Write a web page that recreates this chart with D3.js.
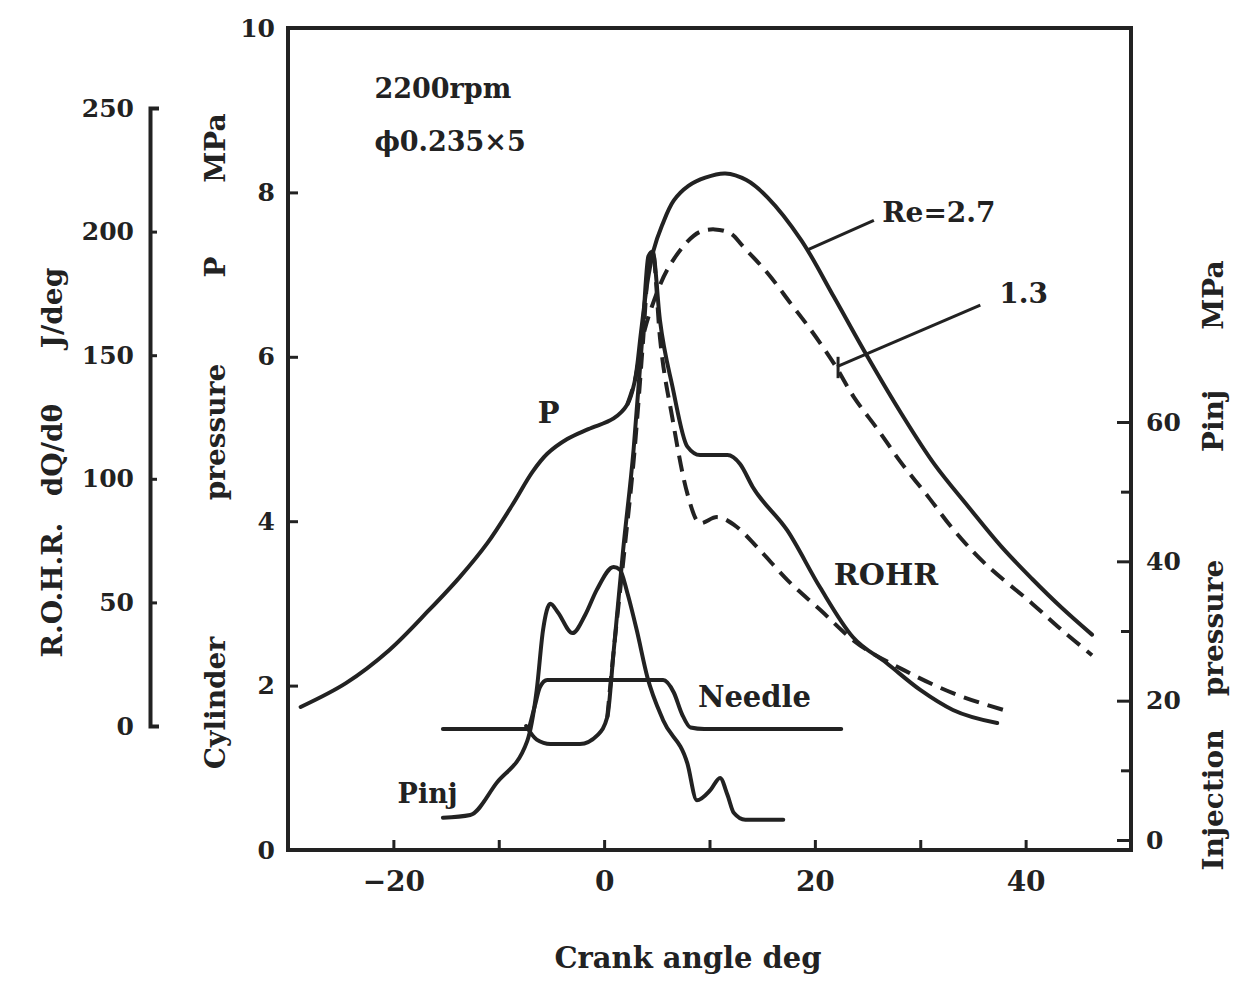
<!DOCTYPE html>
<html>
<head>
<meta charset="utf-8">
<title>Cylinder pressure, ROHR and injection pressure</title>
<script src="https://cdnjs.cloudflare.com/ajax/libs/d3/7.8.5/d3.min.js"></script>
<style>
    body { margin: 0; background: #fff; }
    text { font-family: "DejaVu Serif", serif; font-weight: bold; fill: #222; }
    .tick text { font-size: 25px; }
    .xaxis .tick text { font-size: 28px; }
    .tick line { stroke: #222; stroke-width: 3; }
    .axisline path { stroke: #222; stroke-width: 4; }
    .curve { fill: none; stroke: #222; stroke-width: 4; stroke-linejoin: round; stroke-linecap: round; }
    .dashed { stroke-dasharray: 16, 9; stroke-linecap: butt; }
    .title { font-size: 28px; }
    .note { font-size: 27px; }
</style>
</head>
<body>
<svg width="1251" height="988"></svg>
<script>

// crank angle (deg) vs cylinder pressure (MPa), Re = 2.7 (solid) and 1.3 (dashed)
var pCyl27 = [[-28.8,1.74],[-24.5,2.03],[-20.4,2.43],[-16.6,2.92],[-13.7,3.32],[-11.1,3.73],[-8.7,4.2],
    [-6.8,4.6],[-5.4,4.82],[-3.5,5.0],[-1.5,5.12],[0.9,5.25],[2.2,5.42],[2.9,5.7],[3.5,6.3],[4.1,6.9],
    [4.7,7.3],[5.5,7.6],[6.6,7.9],[8,8.08],[9.6,8.18],[11.5,8.23],[13.5,8.15],[15.5,7.94],[18.7,7.42],
    [21.8,6.73],[25,6.0],[28.2,5.31],[31.3,4.7],[34.6,4.17],[37.7,3.69],[40.6,3.3],[43.4,2.95],[46.3,2.62]];
var pCyl13 = [[2.2,5.42],[2.9,5.7],[3.6,6.2],[4.5,6.6],[6,7.06],[7.9,7.4],[9.1,7.52],[10.5,7.55],[12,7.5],
    [13.2,7.34],[15.5,7.02],[17.7,6.65],[19.6,6.33],[21.8,5.92],[23.7,5.51],[26,5.11],[28.2,4.71],
    [30.8,4.29],[33.2,3.89],[36.1,3.49],[40.6,3.0],[43.4,2.68],[46.3,2.37]];

// rate of heat release (J/deg)
var rohr27 = [[-7.4,0],[-6.4,-5.5],[-5.1,-7.3],[-2.3,-7.3],[-0.6,-3.6],[0.3,3.6],[0.9,30],[1.8,71],
    [2.8,112],[3.6,156],[4.2,190],[4.6,192],[5.3,164],[6.5,137],[7.9,113],[9.1,109.6],[11.7,109.6],
    [12.9,106],[14.1,96.7],[17.4,79],[20.5,56],[23.6,36],[26.8,25.5],[30,14.6],[33.1,6.5],[37.3,1.2]];
var rohr13 = [[0.3,3.6],[0.9,30],[1.9,70],[2.9,112],[3.7,156],[4.3,190],[4.6,192],[5.3,157],[6.5,124],
    [7.9,94],[9.1,82],[10.7,84.5],[12.6,80.5],[14.5,72.4],[17.4,59],[20.5,47],[23.6,34.8],[28.4,22.7],
    [33.1,13.3],[37.9,6.5]];

// injection pressure (MPa) and needle lift (relative)
var pInj = [[-15.3,3.2],[-12.7,3.6],[-10.2,8.2],[-7.3,14.2],[-6.4,21.5],[-5.8,30.1],[-5.1,33.9],[-4.4,32.7],
    [-3.0,29.7],[-1.8,32.3],[-0.7,35.9],[0.9,39.2],[1.5,38.8],[2.2,35.5],[3.1,30.1],[4.1,23.4],[5.6,17.2],
    [7.9,11],[8.8,5.7],[10.1,7.2],[11.0,8.9],[11.7,6.5],[12.3,3.9],[13.4,2.9],[17.0,2.9]];
var needleLift = [[-15.3,0],[-7.3,0],[-6.6,0.45],[-6.1,0.85],[-5.4,1],[5.6,1],[6.6,0.75],[7.4,0.3],
    [8.2,0.03],[9.5,0],[22.5,0]];

// ticks
var angleTicks = [-30,-20,-10,0,10,20,30,40,50];
var angleLabels = [-20,0,20,40];
var pTicks = [0,2,4,6,8,10];
var rohrTicks = [0,50,100,150,200,250];
var injTicks = [0,20,40,60];
var injMinor = [10,30,50];

var svg = d3.select("svg");

var x = d3.scaleLinear().domain([-30, 50]).range([288, 1131]),
    yP = d3.scaleLinear().domain([0, 10]).range([850, 28]),
    yR = d3.scaleLinear().domain([0, 250]).range([726, 108]),
    yI = d3.scaleLinear().domain([0, 60]).range([840, 422]),
    yN = d3.scaleLinear().domain([0, 1]).range([729, 680]),
    rohrAxisX = 150;

//frame round the plot
svg.append("rect")
    .attr("x", x(-30)).attr("y", yP(10))
    .attr("width", x(50) - x(-30)).attr("height", yP(0) - yP(10))
    .attr("fill", "none").attr("stroke", "#222").attr("stroke-width", 4);

//bottom axis, ticks pointing in
var xAxis = svg.append("g")
    .attr("class", "xaxis")
    .attr("transform", "translate(0," + yP(0) + ")")
    .call(d3.axisBottom(x).tickValues(angleTicks).tickSize(-10).tickPadding(21)
        .tickFormat(function(d){ return angleLabels.indexOf(d) >= 0 ? d3.format("")(d) : ""; }));
xAxis.select(".domain").remove();

//cylinder pressure axis
var pAxis = svg.append("g")
    .attr("transform", "translate(" + x(-30) + ",0)")
    .call(d3.axisLeft(yP).tickValues(pTicks).tickSize(-10).tickPadding(13));
pAxis.select(".domain").remove();

//rohr axis off to the left
svg.append("g")
    .attr("class", "axisline")
    .attr("transform", "translate(" + rohrAxisX + ",0)")
    .call(d3.axisLeft(yR).tickValues(rohrTicks).tickSize(-7).tickSizeOuter(-9).tickPadding(16));

//injection pressure axis on the right
var iAxis = svg.append("g")
    .attr("transform", "translate(" + x(50) + ",0)")
    .call(d3.axisRight(yI).tickValues(injTicks).tickSize(-14).tickPadding(15));
iAxis.select(".domain").remove();
var iMinor = svg.append("g")
    .attr("transform", "translate(" + x(50) + ",0)")
    .call(d3.axisRight(yI).tickValues(injMinor).tickSize(-10).tickFormat(""));
iMinor.select(".domain").remove();

//line generators
function lineFor(ys, curve) {
    return d3.line()
        .x(function(d){ return x(d[0]); })
        .y(function(d){ return ys(d[1]); })
        .curve(curve);
}

var smooth = d3.curveCatmullRom.alpha(0.5),
    mono = d3.curveMonotoneX;

var series = [
    {data: pCyl27, y: yP, dashed: false, curve: smooth},
    {data: pCyl13, y: yP, dashed: true, curve: smooth},
    {data: rohr27, y: yR, dashed: false, curve: mono},
    {data: rohr13, y: yR, dashed: true, curve: mono},
    {data: pInj, y: yI, dashed: false, curve: mono},
    {data: needleLift, y: yN, dashed: false, curve: mono}
];

svg.selectAll(".curve")
    .data(series)
    .enter()
        .append("path")
        .attr("class", function(d){ return d.dashed ? "curve dashed" : "curve"; })
        .attr("d", function(d){ return lineFor(d.y, d.curve)(d.data); });

//leader lines for the Re labels
var leaders = [
    [[19.3,7.3],[25.6,7.66]],
    [[22.1,5.88],[35.7,6.63]],
    [[22.2,6.0],[22.2,5.74]]
];
svg.selectAll(".leader")
    .data(leaders)
    .enter()
        .append("path")
        .attr("class", "leader")
        .attr("fill", "none").attr("stroke", "#222").attr("stroke-width", 3)
        .attr("d", d3.line().x(function(d){ return x(d[0]); }).y(function(d){ return yP(d[1]); }));

//labels inside the plot
var notes = [
    {t: "2200rpm", a: -21.8, y: yP(9.15), size: 27},
    {t: "\u03d50.235\u00d75", a: -21.8, y: yP(8.5), size: 27},
    {t: "P", a: -6.3, y: yP(5.2), size: 29},
    {t: "Re=2.7", a: 26.4, y: yP(7.64), size: 28},
    {t: "1.3", a: 37.5, y: yP(6.65), size: 28},
    {t: "ROHR", a: 21.8, y: yR(57), size: 30},
    {t: "Needle", a: 8.9, y: yN(0.45), size: 29},
    {t: "Pinj", a: -19.6, y: yI(5.3), size: 27}
];
svg.selectAll(".note")
    .data(notes)
    .enter()
        .append("text")
        .attr("class", "note")
        .attr("x", function(d){ return x(d.a); })
        .attr("y", function(d){ return d.y; })
        .style("font-size", function(d){ return d.size + "px"; })
        .text(function(d){ return d.t; });

//axis titles, rotated words spaced like the original
var vTitles = [
    {t: "R.O.H.R.", x: 52, y: 590},
    {t: "dQ/d\u03b8", x: 52, y: 450},
    {t: "J/deg", x: 52, y: 308},
    {t: "Cylinder", x: 215, y: 703},
    {t: "pressure", x: 215, y: 432},
    {t: "P", x: 215, y: 267},
    {t: "MPa", x: 215, y: 148},
    {t: "Injection", x: 1213, y: 800},
    {t: "pressure", x: 1213, y: 628},
    {t: "Pinj", x: 1213, y: 421},
    {t: "MPa", x: 1213, y: 295}
];
svg.selectAll(".vtitle")
    .data(vTitles)
    .enter()
        .append("text")
        .attr("class", "title vtitle")
        .attr("text-anchor", "middle")
        .attr("dominant-baseline", "central")
        .attr("transform", function(d){ return "translate(" + d.x + "," + d.y + ") rotate(-90)"; })
        .text(function(d){ return d.t; });

svg.append("text")
    .attr("class", "title")
    .attr("x", 688).attr("y", 968)
    .attr("text-anchor", "middle")
    .style("font-size", "29px")
    .text("Crank angle deg");

</script>
</body>
</html>
